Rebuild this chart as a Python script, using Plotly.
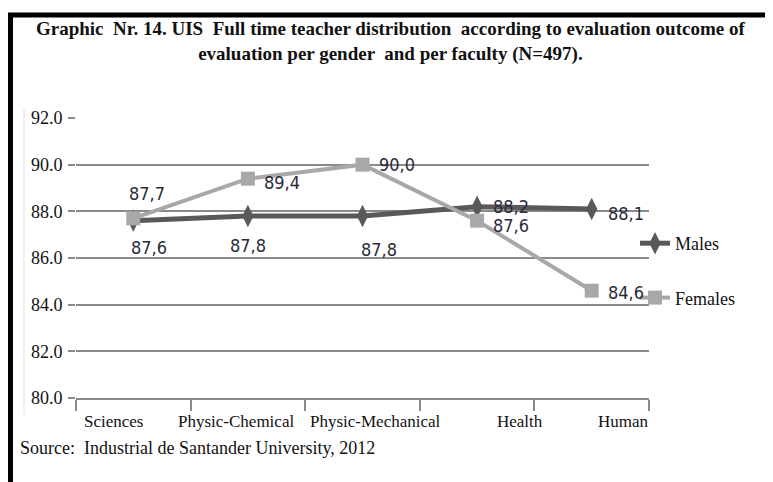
import plotly.graph_objects as go

# ---- data ----
faculties = ["Sciences", "Physic-Chemical", "Physic-Mechanical", "Health", "Human"]
males = [87.6, 87.8, 87.8, 88.2, 88.1]
females = [87.7, 89.4, 90.0, 87.6, 84.6]
y_ticks = [80, 82, 84, 86, 88, 90, 92]

title_text = ("<b>Graphic  Nr. 14. UIS  Full time teacher distribution  according to evaluation outcome of"
              "<br>evaluation per gender  and per faculty (N=497).</b>")
source_text = "Source:  Industrial de Santander University, 2012"

# ---- layout constants (screen pixels of the reference) ----
W, H = 773, 482
BODY = 8                      # default page margin of the html body
L, R, T, B = 76, 124, 118, 84  # plot area in screen pixels
PW = W - L - R
PH = H - T - B
SERIF = "Liberation Serif, Times New Roman, serif"
NARROW = "Liberation Sans Narrow, DejaVu Sans Condensed, sans-serif"
GRID = "#8a8a8a"
MALE_C = "#595959"
FEMALE_C = "#a8a8a8"
LABEL_C = "#2a2a38"

def px_x(p):
    return (p - L) / PW

def px_y(p):
    return (H - B - p) / PH

xs = list(range(len(faculties)))

fig = go.Figure()
fig.add_trace(go.Scatter(
    x=xs, y=males, name="Males", mode="lines+markers",
    line=dict(color=MALE_C, width=5),
    marker=dict(symbol="diamond-tall", size=16, color=MALE_C),
    legendgroup="m", hoverinfo="skip"))
fig.add_trace(go.Scatter(
    x=xs, y=females, name="Females", mode="lines+markers",
    line=dict(color=FEMALE_C, width=4),
    marker=dict(symbol="square", size=14, color=FEMALE_C),
    legendgroup="f", hoverinfo="skip"))

annotations = []
# data labels (pixel offsets relative to each point)
male_off = [(16, 27), (0, 29), (16, 33), (34, 0), (34, 4)]
female_off = [(14, -25), (34, 4), (34, 0), (34, 5), (34, 2)]
for series, offs in ((males, male_off), (females, female_off)):
    for i, v in enumerate(series):
        dx, dy = offs[i]
        annotations.append(dict(
            x=xs[i], y=v, xref="x", yref="y", text=f"{v:.1f}".replace(".", ","),
            showarrow=False, xshift=dx, yshift=-dy, yanchor="middle",
            font=dict(family=NARROW, size=18, color=LABEL_C)))

# category labels (as placed in the original)
cat_off = [-0.17, -0.10, 0.11, 0.37, 0.28]
for i, name in enumerate(faculties):
    annotations.append(dict(
        x=xs[i] + cat_off[i], y=px_y(421), xref="x", yref="paper", text=name,
        showarrow=False, yanchor="middle",
        font=dict(family=SERIF, size=17, color="#111111")))

annotations.append(dict(
    x=px_x(390), y=px_y(41), xref="paper", yref="paper", text=title_text,
    showarrow=False, align="center", yanchor="middle", xanchor="center",
    font=dict(family=SERIF, size=19, color="#111111")))
annotations.append(dict(
    x=px_x(18), y=px_y(448), xref="paper", yref="paper", text=source_text,
    showarrow=False, xanchor="left", yanchor="middle",
    font=dict(family=SERIF, size=18, color="#111111")))

shapes = [
    dict(type="line", xref="paper", yref="paper",
         x0=px_x(8), x1=px_x(W + 5), y0=px_y(15), y1=px_y(15),
         line=dict(color="#000000", width=5)),
    dict(type="line", xref="paper", yref="paper",
         x0=px_x(10.5), x1=px_x(10.5), y0=px_y(13), y1=px_y(H + 5),
         line=dict(color="#000000", width=5)),
    dict(type="line", xref="paper", yref="paper",
         x0=px_x(24), x1=px_x(24), y0=px_y(108), y1=px_y(415),
         line=dict(color="#e2e2e2", width=1)),
]

fig.update_layout(
    width=W - BODY, height=H - BODY,
    margin=dict(l=L - BODY, r=R, t=T - BODY, b=B),
    paper_bgcolor="white", plot_bgcolor="white",
    showlegend=True,
    legend=dict(x=px_x(635), y=px_y(225), xanchor="left", yanchor="top",
                traceorder="grouped", tracegroupgap=28,
                font=dict(family=SERIF, size=18, color="#111111"),
                bgcolor="rgba(0,0,0,0)"),
    annotations=annotations,
    shapes=shapes,
)
fig.update_xaxes(range=[-0.5, len(faculties) - 0.5],
                 tickvals=[i - 0.5 for i in range(len(faculties) + 1)],
                 ticktext=[""] * (len(faculties) + 1),
                 showgrid=False, zeroline=False,
                 showline=True, linecolor=GRID, linewidth=2,
                 ticks="outside", ticklen=11, tickwidth=2, tickcolor=GRID)
fig.update_yaxes(range=[80, 92], tickvals=y_ticks, tickformat=".1f",
                 showgrid=True, gridcolor=GRID, gridwidth=2, zeroline=False,
                 showline=False, ticks="outside", ticklen=7, tickwidth=2,
                 tickcolor=GRID, ticklabelstandoff=2,
                 tickfont=dict(family=SERIF, size=18, color="#111111"))

fig.write_html("out.html")
